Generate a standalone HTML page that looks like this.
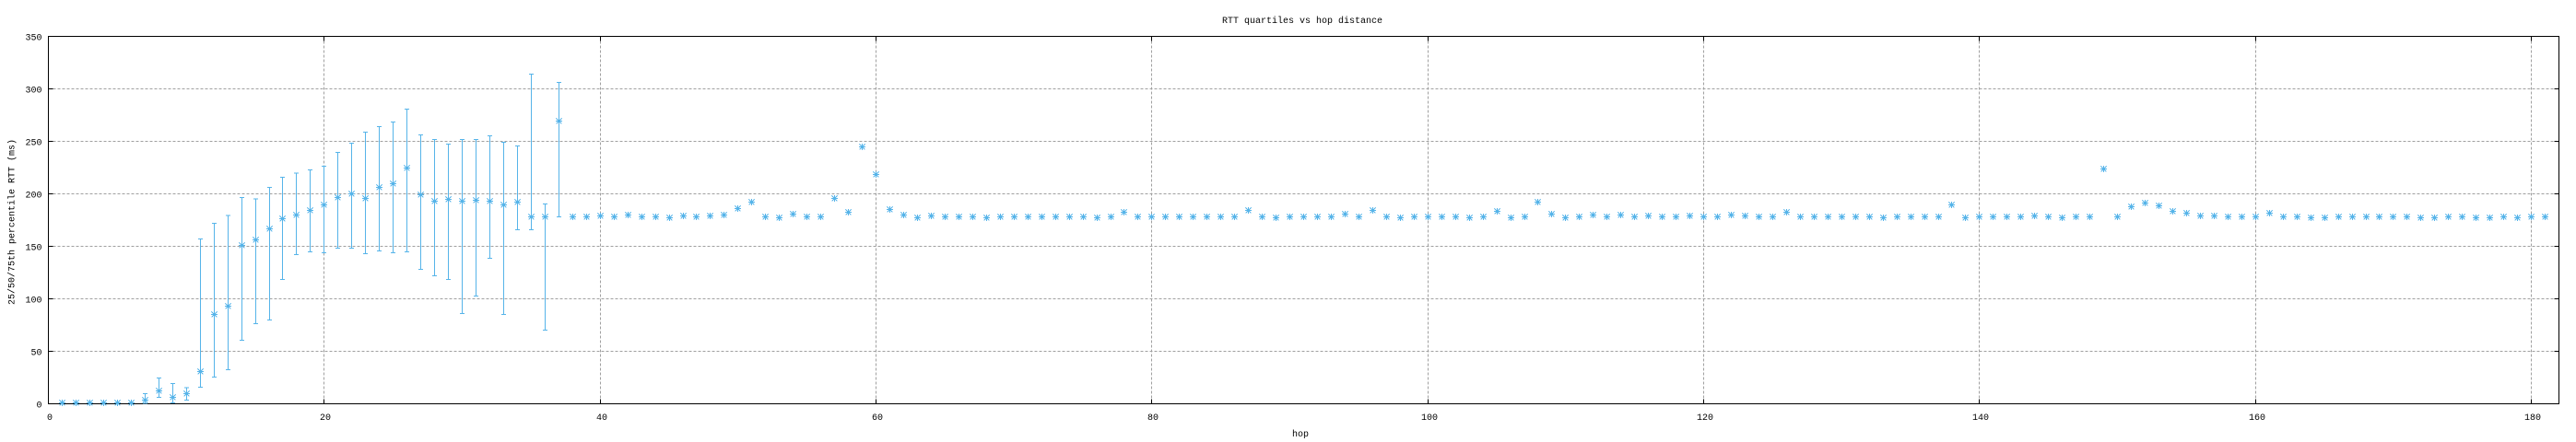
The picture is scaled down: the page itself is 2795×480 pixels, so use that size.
<!DOCTYPE html>
<html><head><meta charset="utf-8"><style>
html,body{margin:0;padding:0;background:#fff;}
svg{display:block;}
text{font-family:"Liberation Mono","DejaVu Sans Mono",monospace;font-size:10px;fill:#000;}
</style></head><body>
<svg width="2795" height="480" viewBox="0 0 2795 480" xmlns="http://www.w3.org/2000/svg">
<rect width="2795" height="480" fill="#fff"/>
<defs>
<g id="s" stroke="#56b4e9" stroke-width="1" fill="none" shape-rendering="crispEdges">
<path d="M-3.5,0H3.5M0,-3.5V3.5M-3,-3L3,3M-3,3L3,-3"/>
<rect x="-1.5" y="-1.5" width="3" height="3" fill="#56b4e9" stroke="none"/>
</g>
</defs>
<!-- grid -->
<g stroke="#a0a0a0" stroke-width="1" stroke-dasharray="3,2" fill="none" shape-rendering="crispEdges">
<path d="M52.5,381.5H2776.5M52.5,324.5H2776.5M52.5,267.5H2776.5M52.5,210.5H2776.5M52.5,153.5H2776.5M52.5,96.5H2776.5"/>
<path d="M351.5,39.5V438.5M651.5,39.5V438.5M950.5,39.5V438.5M1249.5,39.5V438.5M1549.5,39.5V438.5M1848.5,39.5V438.5M2147.5,39.5V438.5M2447.5,39.5V438.5M2746.5,39.5V438.5"/>
</g>
<!-- border & ticks -->
<g stroke="#000" stroke-width="1" fill="none" shape-rendering="crispEdges">
<rect x="52.5" y="39.5" width="2724" height="399"/>
<path d="M52.5,381.5h5M52.5,324.5h5M52.5,267.5h5M52.5,210.5h5M52.5,153.5h5M52.5,96.5h5M2776.5,381.5h-5M2776.5,324.5h-5M2776.5,267.5h-5M2776.5,210.5h-5M2776.5,153.5h-5M2776.5,96.5h-5"/>
<path d="M351.5,438.5v-5M651.5,438.5v-5M950.5,438.5v-5M1249.5,438.5v-5M1549.5,438.5v-5M1848.5,438.5v-5M2147.5,438.5v-5M2447.5,438.5v-5M2746.5,438.5v-5M351.5,39.5v5M651.5,39.5v5M950.5,39.5v5M1249.5,39.5v5M1549.5,39.5v5M1848.5,39.5v5M2147.5,39.5v5M2447.5,39.5v5M2746.5,39.5v5"/>
</g>
<!-- labels -->
<text x="1413" y="25" text-anchor="middle">RTT quartiles vs hop distance</text>
<g text-anchor="end">
<text x="45.5" y="442.5">0</text>
<text x="45.5" y="385.5">50</text>
<text x="45.5" y="328.5">100</text>
<text x="45.5" y="271.5">150</text>
<text x="45.5" y="214.5">200</text>
<text x="45.5" y="157.5">250</text>
<text x="45.5" y="100.5">300</text>
<text x="45.5" y="43.5">350</text>
</g>
<g text-anchor="middle">
<text x="54" y="456">0</text>
<text x="353" y="456">20</text>
<text x="653" y="456">40</text>
<text x="952" y="456">60</text>
<text x="1251" y="456">80</text>
<text x="1551" y="456">100</text>
<text x="1850" y="456">120</text>
<text x="2149" y="456">140</text>
<text x="2449" y="456">160</text>
<text x="2748" y="456">180</text>
<text x="1411" y="474">hop</text>
<text transform="translate(15.5,241) rotate(-90)">25/50/75th percentile RTT (ms)</text>
</g>
<!-- error bars -->
<path stroke="#56b4e9" stroke-width="1" fill="none" shape-rendering="crispEdges" d="
M157.5,427.5V438M155,427.5h5M155,438h5
M172.5,410.5V431.5M170,410.5h5M170,431.5h5
M187.5,416.5V437.5M185,416.5h5M185,437.5h5
M202.5,421V434.5M200,421h5M200,434.5h5
M217.5,259.5V420.5M215,259.5h5M215,420.5h5
M232.5,242.5V409.5M230,242.5h5M230,409.5h5
M247.5,234V401.5M245,234h5M245,401.5h5
M262.5,214.5V369.5M260,214.5h5M260,369.5h5
M277.5,216V351.5M275,216h5M275,351.5h5
M292.5,203.5V347.5M290,203.5h5M290,347.5h5
M306.5,192.5V303.5M304,192.5h5M304,303.5h5
M321.5,188V276.5M319,188h5M319,276.5h5
M336.5,184.5V273.5M334,184.5h5M334,273.5h5
M351.5,180.5V274.5M349,180.5h5M349,274.5h5
M366.5,165.5V269.5M364,165.5h5M364,269.5h5
M381.5,155.5V269.5M379,155.5h5M379,269.5h5
M396.5,143.5V275.5M394,143.5h5M394,275.5h5
M411.5,137.5V272.5M409,137.5h5M409,272.5h5
M426.5,132.5V274.5M424,132.5h5M424,274.5h5
M441.5,118.5V273.5M439,118.5h5M439,273.5h5
M456.5,146.5V292.5M454,146.5h5M454,292.5h5
M471.5,151.5V299.5M469,151.5h5M469,299.5h5
M486.5,156.5V303.5M484,156.5h5M484,303.5h5
M501.5,151.5V340.5M499,151.5h5M499,340.5h5
M516.5,151.5V321.5M514,151.5h5M514,321.5h5
M531.5,147.5V280.5M529,147.5h5M529,280.5h5
M546.5,154.5V341.5M544,154.5h5M544,341.5h5
M561.5,158.5V249.5M559,158.5h5M559,249.5h5
M576.5,80.5V249.5M574,80.5h5M574,249.5h5
M591.5,221.5V358.5M589,221.5h5M589,358.5h5
M606.5,89.5V235.5M604,89.5h5M604,235.5h5"/>
<!-- medians -->
<g>
<use href="#s" x="67.5" y="437.5"/><use href="#s" x="82.5" y="437.5"/><use href="#s" x="97.5" y="437.5"/><use href="#s" x="112.5" y="437.5"/><use href="#s" x="127.5" y="437.5"/><use href="#s" x="142.5" y="437.5"/>
<use href="#s" x="157.5" y="434.5"/><use href="#s" x="172.5" y="424.5"/><use href="#s" x="187.5" y="431.5"/><use href="#s" x="202.5" y="427.5"/>
<use href="#s" x="217.5" y="403.5"/><use href="#s" x="232.5" y="341.5"/><use href="#s" x="247.5" y="332.5"/><use href="#s" x="262.5" y="266.5"/><use href="#s" x="277.5" y="260.5"/>
<use href="#s" x="292.5" y="248.5"/><use href="#s" x="306.5" y="237.5"/><use href="#s" x="321.5" y="233.5"/><use href="#s" x="336.5" y="228.5"/><use href="#s" x="351.5" y="222.5"/>
<use href="#s" x="366.5" y="214.5"/><use href="#s" x="381.5" y="210.5"/><use href="#s" x="396.5" y="215.5"/><use href="#s" x="411.5" y="203.5"/><use href="#s" x="426.5" y="199.5"/>
<use href="#s" x="441.5" y="182.5"/><use href="#s" x="456.5" y="211.5"/><use href="#s" x="471.5" y="218.5"/><use href="#s" x="486.5" y="216.5"/><use href="#s" x="501.5" y="218.5"/>
<use href="#s" x="516.5" y="217.5"/><use href="#s" x="531.5" y="218.5"/><use href="#s" x="546.5" y="222.5"/><use href="#s" x="561.5" y="219.5"/><use href="#s" x="576.5" y="235.5"/>
<use href="#s" x="591.5" y="235.5"/><use href="#s" x="606.5" y="131.5"/><use href="#s" x="621.5" y="235.5"/><use href="#s" x="636.5" y="235.5"/><use href="#s" x="651.5" y="234.5"/>
<use href="#s" x="666.5" y="235.5"/><use href="#s" x="681.5" y="233.5"/><use href="#s" x="696.5" y="235.5"/><use href="#s" x="711.5" y="235.5"/><use href="#s" x="726.5" y="236.5"/>
<use href="#s" x="741.5" y="234.5"/><use href="#s" x="755.5" y="235.5"/><use href="#s" x="770.5" y="234.5"/><use href="#s" x="785.5" y="233.5"/><use href="#s" x="800.5" y="226.5"/>
<use href="#s" x="815.5" y="219.5"/><use href="#s" x="830.5" y="235.5"/><use href="#s" x="845.5" y="236.5"/><use href="#s" x="860.5" y="232.5"/><use href="#s" x="875.5" y="235.5"/>
<use href="#s" x="890.5" y="235.5"/><use href="#s" x="905.5" y="215.5"/><use href="#s" x="920.5" y="230.5"/><use href="#s" x="935.5" y="159.5"/><use href="#s" x="950.5" y="189.5"/>
<use href="#s" x="965.5" y="227.5"/><use href="#s" x="980.5" y="233.5"/><use href="#s" x="995.5" y="236.5"/><use href="#s" x="1010.5" y="234.5"/><use href="#s" x="1025.5" y="235.5"/>
<use href="#s" x="1040.5" y="235.5"/><use href="#s" x="1055.5" y="235.5"/><use href="#s" x="1070.5" y="236.5"/><use href="#s" x="1085.5" y="235.5"/><use href="#s" x="1100.5" y="235.5"/>
<use href="#s" x="1115.5" y="235.5"/><use href="#s" x="1130.5" y="235.5"/><use href="#s" x="1145.5" y="235.5"/><use href="#s" x="1160.5" y="235.5"/><use href="#s" x="1175.5" y="235.5"/>
<use href="#s" x="1190.5" y="236.5"/><use href="#s" x="1205.5" y="235.5"/><use href="#s" x="1219.5" y="230.5"/><use href="#s" x="1234.5" y="235.5"/><use href="#s" x="1249.5" y="235.5"/>
<use href="#s" x="1264.5" y="235.5"/><use href="#s" x="1279.5" y="235.5"/><use href="#s" x="1294.5" y="235.5"/><use href="#s" x="1309.5" y="235.5"/><use href="#s" x="1324.5" y="235.5"/>
<use href="#s" x="1339.5" y="235.5"/><use href="#s" x="1354.5" y="228.5"/><use href="#s" x="1369.5" y="235.5"/><use href="#s" x="1384.5" y="236.5"/><use href="#s" x="1399.5" y="235.5"/>
<use href="#s" x="1414.5" y="235.5"/><use href="#s" x="1429.5" y="235.5"/><use href="#s" x="1444.5" y="235.5"/><use href="#s" x="1459.5" y="232.5"/><use href="#s" x="1474.5" y="235.5"/>
<use href="#s" x="1489.5" y="228.5"/><use href="#s" x="1504.5" y="235.5"/><use href="#s" x="1519.5" y="236.5"/><use href="#s" x="1534.5" y="235.5"/><use href="#s" x="1549.5" y="235.5"/>
<use href="#s" x="1564.5" y="235.5"/><use href="#s" x="1579.5" y="235.5"/><use href="#s" x="1594.5" y="236.5"/><use href="#s" x="1609.5" y="235.5"/><use href="#s" x="1624.5" y="229.5"/>
<use href="#s" x="1639.5" y="236.5"/><use href="#s" x="1654.5" y="235.5"/><use href="#s" x="1668.5" y="219.5"/><use href="#s" x="1683.5" y="232.5"/><use href="#s" x="1698.5" y="236.5"/>
<use href="#s" x="1713.5" y="235.5"/><use href="#s" x="1728.5" y="233.5"/><use href="#s" x="1743.5" y="235.5"/><use href="#s" x="1758.5" y="233.5"/><use href="#s" x="1773.5" y="235.5"/>
<use href="#s" x="1788.5" y="234.5"/><use href="#s" x="1803.5" y="235.5"/><use href="#s" x="1818.5" y="235.5"/><use href="#s" x="1833.5" y="234.5"/><use href="#s" x="1848.5" y="235.5"/>
<use href="#s" x="1863.5" y="235.5"/><use href="#s" x="1878.5" y="233.5"/><use href="#s" x="1893.5" y="234.5"/><use href="#s" x="1908.5" y="235.5"/><use href="#s" x="1923.5" y="235.5"/>
<use href="#s" x="1938.5" y="230.5"/><use href="#s" x="1953.5" y="235.5"/><use href="#s" x="1968.5" y="235.5"/><use href="#s" x="1983.5" y="235.5"/><use href="#s" x="1998.5" y="235.5"/>
<use href="#s" x="2013.5" y="235.5"/><use href="#s" x="2028.5" y="235.5"/><use href="#s" x="2043.5" y="236.5"/><use href="#s" x="2058.5" y="235.5"/><use href="#s" x="2073.5" y="235.5"/>
<use href="#s" x="2088.5" y="235.5"/><use href="#s" x="2103.5" y="235.5"/><use href="#s" x="2117.5" y="222.5"/><use href="#s" x="2132.5" y="236.5"/><use href="#s" x="2147.5" y="235.5"/>
<use href="#s" x="2162.5" y="235.5"/><use href="#s" x="2177.5" y="235.5"/><use href="#s" x="2192.5" y="235.5"/><use href="#s" x="2207.5" y="234.5"/><use href="#s" x="2222.5" y="235.5"/>
<use href="#s" x="2237.5" y="236.5"/><use href="#s" x="2252.5" y="235.5"/><use href="#s" x="2267.5" y="235.5"/><use href="#s" x="2282.5" y="183.5"/><use href="#s" x="2297.5" y="235.5"/>
<use href="#s" x="2312.5" y="224.5"/><use href="#s" x="2327.5" y="220.5"/><use href="#s" x="2342.5" y="223.5"/><use href="#s" x="2357.5" y="229.5"/><use href="#s" x="2372.5" y="231.5"/>
<use href="#s" x="2387.5" y="234.5"/><use href="#s" x="2402.5" y="234.5"/><use href="#s" x="2417.5" y="235.5"/><use href="#s" x="2432.5" y="235.5"/><use href="#s" x="2447.5" y="235.5"/>
<use href="#s" x="2462.5" y="231.5"/><use href="#s" x="2477.5" y="235.5"/><use href="#s" x="2492.5" y="235.5"/><use href="#s" x="2507.5" y="236.5"/><use href="#s" x="2522.5" y="236.5"/>
<use href="#s" x="2537.5" y="235.5"/><use href="#s" x="2552.5" y="235.5"/><use href="#s" x="2567.5" y="235.5"/><use href="#s" x="2581.5" y="235.5"/><use href="#s" x="2596.5" y="235.5"/>
<use href="#s" x="2611.5" y="235.5"/><use href="#s" x="2626.5" y="236.5"/><use href="#s" x="2641.5" y="236.5"/><use href="#s" x="2656.5" y="235.5"/><use href="#s" x="2671.5" y="235.5"/>
<use href="#s" x="2686.5" y="236.5"/><use href="#s" x="2701.5" y="236.5"/><use href="#s" x="2716.5" y="235.5"/><use href="#s" x="2731.5" y="236.5"/><use href="#s" x="2746.5" y="235.5"/>
<use href="#s" x="2761.5" y="235.5"/>
</g>
</svg>
</body></html>
